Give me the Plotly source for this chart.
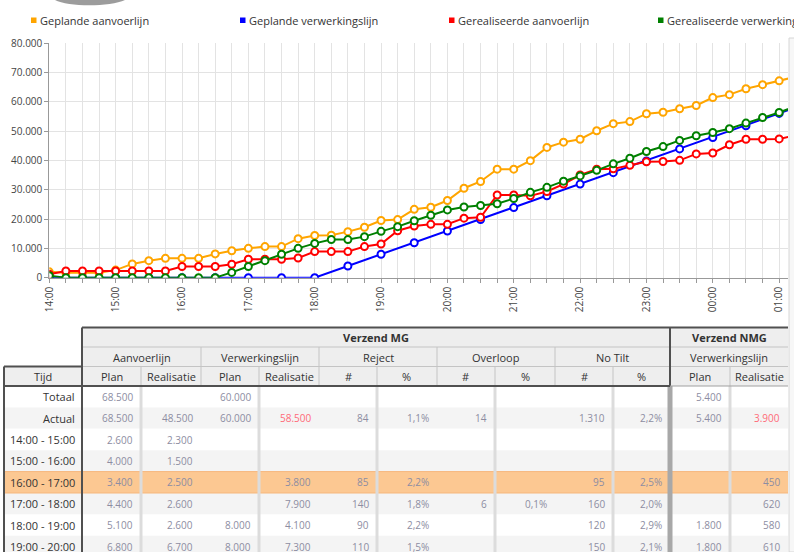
import plotly.graph_objects as go
import pandas as pd

W, H = 794, 552

# ---------------- chart data ----------------
times = pd.date_range("2024-01-01 14:00", "2024-01-02 01:15", freq="15min")
times_30 = pd.date_range("2024-01-01 14:00", "2024-01-02 01:30", freq="30min")

geplande_aanvoerlijn = [2000, 1700, 1700, 1700, 2600, 4700, 5800, 6600, 6600, 6600, 8100, 9200,
                        10000, 10600, 10600, 13300, 14400, 14500, 15700, 17200, 19500, 19800,
                        23300, 24000, 26300, 30500, 32800, 37000, 37000, 39900, 44400, 46200,
                        47200, 50100, 52500, 53200, 55900, 56400, 57600, 58700, 61400, 62400,
                        64400, 65800, 67100, 68500]
geplande_verwerkingslijn = [0, 0, 0, 0, 0, 0, 0, 0, 0, 4000, 8000, 11900, 15900, 19800, 23900,
                            27900, 31900, 35800, 39800, 43900, 47800, 51800, 56000, 60000]
gerealiseerde_aanvoerlijn = [1200, 2300, 2300, 2300, 2300, 2300, 2300, 2300, 3800, 3800, 3800, 4600,
                             6300, 6300, 6300, 6700, 8900, 8900, 8900, 10600, 11500, 16000, 17600,
                             18200, 18200, 20300, 20600, 28200, 28200, 27900, 29400, 31900, 35000,
                             37000, 37100, 38300, 39500, 39600, 40000, 42200, 42500, 45300, 47200,
                             47200, 47300, 48500]
gerealiseerde_verwerkingslijn = [700, 0, 0, 0, 0, 0, 0, 0, 0, 0, 0, 1800, 3800, 5800, 8000, 10000,
                                 11700, 13000, 13000, 14000, 15800, 17400, 19400, 21300, 23100,
                                 24100, 24600, 25200, 27000, 29100, 30800, 32900, 34700, 36600,
                                 38800, 40700, 43000, 44700, 46800, 48400, 49500, 50800, 52700,
                                 54600, 56300, 58500]

series_names = ["Geplande aanvoerlijn", "Geplande verwerkingslijn",
                "Gerealiseerde aanvoerlijn", "Gerealiseerde verwerkingslijn"]
series_colors = ["#FFA500", "#0000FF", "#FF0000", "#008000"]
series_x = [times, times_30, times, times]
series_y = [geplande_aanvoerlijn, geplande_verwerkingslijn,
            gerealiseerde_aanvoerlijn, gerealiseerde_verwerkingslijn]

y_ticks = [0, 10000, 20000, 30000, 40000, 50000, 60000, 70000, 80000]

# ---------------- table data ----------------
header_groups_1 = ["Verzend MG", "Verzend NMG"]
header_groups_2 = ["Aanvoerlijn", "Verwerkingslijn", "Reject", "Overloop", "No Tilt", "Verwerkingslijn"]
header_cols = ["Tijd", "Plan", "Realisatie", "Plan", "Realisatie", "#", "%", "#", "%", "#", "%",
               "Plan", "Realisatie"]
row_labels = ["Totaal", "Actual", "14:00 - 15:00", "15:00 - 16:00", "16:00 - 17:00",
              "17:00 - 18:00", "18:00 - 19:00", "19:00 - 20:00"]
aanv_plan = ["68.500", "68.500", "2.600", "4.000", "3.400", "4.400", "5.100", "6.800"]
aanv_real = ["", "48.500", "2.300", "1.500", "2.500", "2.600", "2.600", "6.700"]
verw_plan = ["60.000", "60.000", "", "", "", "", "8.000", "8.000"]
verw_real = ["", "58.500", "", "", "3.800", "7.900", "4.100", "7.300"]
rej_n = ["", "84", "", "", "85", "140", "90", "110"]
rej_p = ["", "1,1%", "", "", "2,2%", "1,8%", "2,2%", "1,5%"]
ovl_n = ["", "14", "", "", "", "6", "", ""]
ovl_p = ["", "", "", "", "", "0,1%", "", ""]
nt_n = ["", "1.310", "", "", "95", "160", "120", "150"]
nt_p = ["", "2,2%", "", "", "2,5%", "2,0%", "2,9%", "2,1%"]
nmg_plan = ["5.400", "5.400", "", "", "", "", "1.800", "1.800"]
nmg_real = ["", "3.900", "", "", "450", "620", "580", "610"]
table_columns = [aanv_plan, aanv_real, verw_plan, verw_real, rej_n, rej_p, ovl_n, ovl_p,
                 nt_n, nt_p, nmg_plan, nmg_real]
highlight_row = "16:00 - 17:00"
red_row = "Actual"
red_columns = [verw_real, nmg_real]   # realisatie totals shown in red on the Actual row

# ---------------- helpers (page pixels -> paper) ----------------
def X(px):
    return px / W


def Y(py):
    return 1 - py / H


FONT = "Open Sans, Segoe UI, Arial, sans-serif"
TXT = "#333333"

fig = go.Figure()

for name, color, xs, ys in zip(series_names, series_colors, series_x, series_y):
    fig.add_trace(go.Scatter(
        x=xs, y=ys, name=name, mode="lines+markers",
        line=dict(color=color, width=2),
        marker=dict(symbol="circle", size=7, color="white", line=dict(color=color, width=2)),
        showlegend=False,
    ))

shapes = []
annotations = []


def label(x, y, text, xanchor="center", size=11, color=TXT):
    annotations.append(dict(xref="paper", yref="paper", x=X(x), y=Y(y), xanchor=xanchor,
                            yanchor="middle", showarrow=False, text=text,
                            font=dict(family=FONT, size=size, color=color)))


# ---------- legend (top) ----------
leg_x0, leg_step = 31, 209
for i, (name, color) in enumerate(zip(series_names, series_colors)):
    sx = leg_x0 + i * leg_step
    shapes.append(dict(type="rect", xref="paper", yref="paper",
                       x0=X(sx), x1=X(sx + 5.5), y0=Y(23), y1=Y(17.5),
                       fillcolor=color, line=dict(width=0)))
    label(sx + 7, 20, name, xanchor="left")

# top decorative grey blob (partially visible element)
shapes.append(dict(type="path", xref="paper", yref="paper",
                   path=(f"M {X(55)},{Y(0)} C {X(68)},{Y(7)} {X(110)},{Y(7)} {X(125)},{Y(0)} Z"),
                   fillcolor="#9c9c9c", line=dict(width=0)))

# scrollbar track on the right
shapes.append(dict(type="rect", xref="paper", yref="paper", x0=X(789), x1=X(795),
                   y0=Y(552), y1=Y(38), fillcolor="#f7f7f7", line=dict(color="#d6d6d6", width=1)))

# ---------- table ----------
col_widths = [78, 59, 60, 58, 60, 58, 60, 58, 60, 58, 57, 60, 58]
edges = [4]
for w in col_widths:
    edges.append(edges[-1] + w)
hdr_y = [327.5, 347, 366.5, 386]
row_h = 21.4
data_top = hdr_y[-1]

# data row backgrounds
for r, lab in enumerate(row_labels):
    y0 = data_top + r * row_h
    if lab == highlight_row:
        fill = "#fcc892"
    elif r % 2 == 1:
        fill = "#f4f4f4"
    else:
        fill = "#ffffff"
    shapes.append(dict(type="rect", xref="paper", yref="paper", x0=X(edges[0]), x1=X(edges[-1]),
                       y0=Y(y0 + row_h), y1=Y(y0), fillcolor=fill, line=dict(width=0), layer="below"))
    if lab == highlight_row:
        for yy in (y0, y0 + row_h):
            shapes.append(dict(type="line", xref="paper", yref="paper", x0=X(edges[0]), x1=X(edges[-1]),
                               y0=Y(yy), y1=Y(yy), line=dict(color="#f6b77c", width=1)))

# header background
shapes.append(dict(type="rect", xref="paper", yref="paper", x0=X(edges[1]), x1=X(edges[-1]),
                   y0=Y(hdr_y[3]), y1=Y(hdr_y[0]), fillcolor="#eeeeee", line=dict(width=0)))
shapes.append(dict(type="rect", xref="paper", yref="paper", x0=X(edges[0]), x1=X(edges[1]),
                   y0=Y(hdr_y[3]), y1=Y(hdr_y[2]), fillcolor="#eeeeee", line=dict(width=0)))

LIGHT = "#c4c4c4"
DARK = "#505050"


def vline(x, ya, yb, color, width):
    shapes.append(dict(type="line", xref="paper", yref="paper", x0=X(x), x1=X(x),
                       y0=Y(ya), y1=Y(yb), line=dict(color=color, width=width)))


def hline(y, xa, xb, color, width):
    shapes.append(dict(type="line", xref="paper", yref="paper", x0=X(xa), x1=X(xb),
                       y0=Y(y), y1=Y(y), line=dict(color=color, width=width)))


# header internal lines
hline(hdr_y[1], edges[1], edges[-1], LIGHT, 1)
hline(hdr_y[2], edges[1], edges[-1], LIGHT, 1)
group_edges = [edges[3], edges[5], edges[7], edges[9]]
for gx in group_edges:
    vline(gx, hdr_y[1], hdr_y[3], LIGHT, 1)
sub_edges = [edges[2], edges[4], edges[6], edges[8], edges[10], edges[12]]
for sx in sub_edges:
    vline(sx, hdr_y[2], hdr_y[3], LIGHT, 1)

# data separators
for sx in sub_edges:
    vline(sx, data_top, H + 5, "#dcdcdc", 3)
vline(edges[11], data_top, H + 5, "#a8a8a8", 5)

# dark outlines
hline(hdr_y[0], edges[1], edges[-1], DARK, 2)
vline(edges[1], hdr_y[0], H + 5, DARK, 2)
vline(edges[11], hdr_y[0], hdr_y[3], DARK, 2)
hline(hdr_y[3], edges[0], edges[11], DARK, 2)
hline(hdr_y[3], edges[11], edges[-1], "#a0a0a0", 1)
hline(hdr_y[2], edges[0], edges[1], DARK, 2)
vline(edges[0], hdr_y[2], H + 5, DARK, 2)

# header texts
label((edges[1] + edges[11]) / 2, (hdr_y[0] + hdr_y[1]) / 2 + 0.5, "<b>" + header_groups_1[0] + "</b>")
label((edges[11] + edges[13]) / 2, (hdr_y[0] + hdr_y[1]) / 2 + 0.5, "<b>" + header_groups_1[1] + "</b>")
for g, name in enumerate(header_groups_2):
    xa, xb = edges[1 + 2 * g], edges[3 + 2 * g]
    label((xa + xb) / 2, (hdr_y[1] + hdr_y[2]) / 2 + 0.5, name)
for c, name in enumerate(header_cols):
    label((edges[c] + edges[c + 1]) / 2, (hdr_y[2] + hdr_y[3]) / 2 + 0.5, name)

# data texts
for r, lab in enumerate(row_labels):
    yc = data_top + r * row_h + row_h / 2
    label(edges[1] - 5, yc, lab, xanchor="right")
    for c, col in enumerate(table_columns):
        val = col[r]
        if not val:
            continue
        is_red = lab == red_row and any(col is rc for rc in red_columns)
        color = "#ff6a78" if is_red else "#8d8da2"
        label(edges[c + 2] - 6, yc, val, xanchor="right", size=10, color=color)

fig.update_layout(
    width=W, height=H, autosize=False,
    margin=dict(l=0, r=0, t=0, b=0, pad=0, autoexpand=False),
    paper_bgcolor="white", plot_bgcolor="white",
    separators=",.",
    showlegend=False,
    font=dict(family=FONT, size=11, color=TXT),
    shapes=shapes, annotations=annotations,
    xaxis=dict(
        domain=[X(49.3), X(788)],
        type="date",
        range=["2024-01-01 14:00", "2024-01-02 01:08"],
        dtick=3600000, tick0="2024-01-01 14:00", tickformat="%H:%M", tickangle=-90,
        ticks="outside", ticklen=4, tickcolor="#999999",
        showgrid=True, gridcolor="#e3e3e3", gridwidth=1,
        minor=dict(dtick=900000, tick0="2024-01-01 14:00", showgrid=True, gridcolor="#e3e3e3",
                   ticks="outside", ticklen=4, tickcolor="#999999"),
        showline=True, linecolor="#999999", linewidth=1,
        tickfont=dict(family=FONT, size=10, color="#444444"),
        zeroline=False, fixedrange=True, automargin=False,
    ),
    yaxis=dict(
        domain=[Y(277.7), Y(43)],
        range=[0, 80000], tickvals=y_ticks, tickformat=",d",
        ticks="outside", ticklen=4, tickcolor="#999999",
        showgrid=True, gridcolor="#e3e3e3", gridwidth=1,
        showline=True, linecolor="#999999", linewidth=1,
        tickfont=dict(family=FONT, size=10, color="#444444"),
        zeroline=False, fixedrange=True, automargin=False,
    ),
)

fig.write_html("out.html", config={"displayModeBar": False},
               post_script="document.body.style.margin='0px';document.body.style.overflow='hidden';")
